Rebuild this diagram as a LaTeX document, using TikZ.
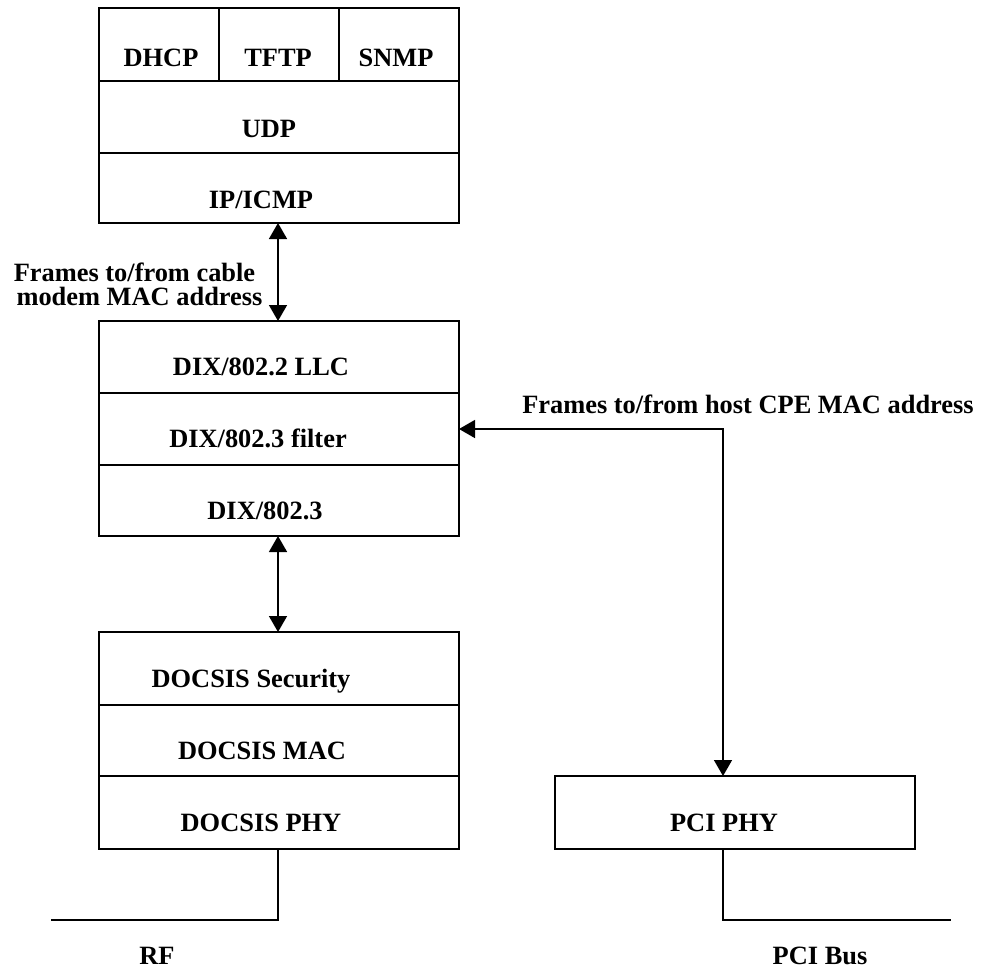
\documentclass[tikz,border=0pt]{standalone}
\usepackage{fontspec}
\setmainfont{Liberation Serif}
\usetikzlibrary{arrows.meta,calc}
\begin{document}
\begin{tikzpicture}[x=1pt,y=-1pt,
  layer/.style={draw,line width=1.8pt,rectangle,inner sep=0pt,outer sep=0pt},
  lbl/.style={font=\fontsize{26.4}{30}\selectfont\bfseries,inner sep=0pt,anchor=base},
  conn/.style={line width=1.5pt},
  dbl/.style={{Triangle[width=18pt,length=16pt]}-{Triangle[width=18pt,length=16pt]}}]
\useasboundingbox (0,0) rectangle (981,971);
% top stack
\node[layer,minimum width=120pt,minimum height=73pt] (dhcp) at (159,44.5) {};
\node[layer,minimum width=120pt,minimum height=73pt] (tftp) at (279,44.5) {};
\node[layer,minimum width=120pt,minimum height=73pt] (snmp) at (399,44.5) {};
\node[layer,minimum width=360pt,minimum height=72pt] (udp) at (279,117) {};
\node[layer,minimum width=360pt,minimum height=70pt] (ip) at (279,188) {};
\node[lbl] (dhcpT) at (161,67) {DHCP};
\node[lbl] (tftpT) at (278,67) {TFTP};
\node[lbl] (snmpT) at (396,67) {SNMP};
\node[lbl] (udpT) at (269,137) {UDP};
\node[lbl] (ipT) at (261,208) {IP/ICMP};
% middle stack
\node[layer,minimum width=360pt,minimum height=72pt] (llc) at (279,357) {};
\node[layer,minimum width=360pt,minimum height=72pt] (filt) at (279,429) {};
\node[layer,minimum width=360pt,minimum height=71pt] (dix) at (279,500.5) {};
\node[lbl] (llcT) at (261,375) {DIX/802.2 LLC};
\node[lbl] (filtT) at (258,447) {DIX/802.3 filter};
\node[lbl] (dixT) at (265,519) {DIX/802.3};
% docsis stack
\node[layer,minimum width=360pt,minimum height=73pt] (sec) at (279,668.5) {};
\node[layer,minimum width=360pt,minimum height=71pt] (mac) at (279,740.5) {};
\node[layer,minimum width=360pt,minimum height=73pt] (phy) at (279,812.5) {};
\node[lbl] (secT) at (251,687) {DOCSIS Security};
\node[lbl] (macT) at (262,759) {DOCSIS MAC};
\node[lbl] (phyT) at (261,831) {DOCSIS PHY};
% pci
\node[layer,minimum width=360pt,minimum height=73pt] (pci) at (735,812.5) {};
\node[lbl] (pciT) at (724,831) {PCI PHY};
% labels
\node[lbl] (cab1) at (134.5,281) {Frames to/from cable};
\node[lbl] (cab2) at (139.5,305) {modem MAC address};
\node[lbl] (host) at (748,413) {Frames to/from host CPE MAC address};
\node[lbl] (rf) at (157,964) {RF};
\node[lbl] (pcibus) at (820,964) {PCI Bus};
% coordinates
\coordinate (ax) at (278,0);
\coordinate (vx) at (723,0);
\coordinate (rfend) at (51,920);
\coordinate (busend) at (951,920);
% connectors
\draw[conn,dbl] (ip.south -| ax) -- (llc.north -| ax);
\draw[conn,dbl] (dix.south -| ax) -- (sec.north -| ax);
\draw[conn,dbl] (filt.east) -| (pci.north -| vx);
\draw[conn] (phy.south -| ax) |- (rfend);
\draw[conn] (pci.south -| vx) |- (busend);
\end{tikzpicture}
\end{document}
